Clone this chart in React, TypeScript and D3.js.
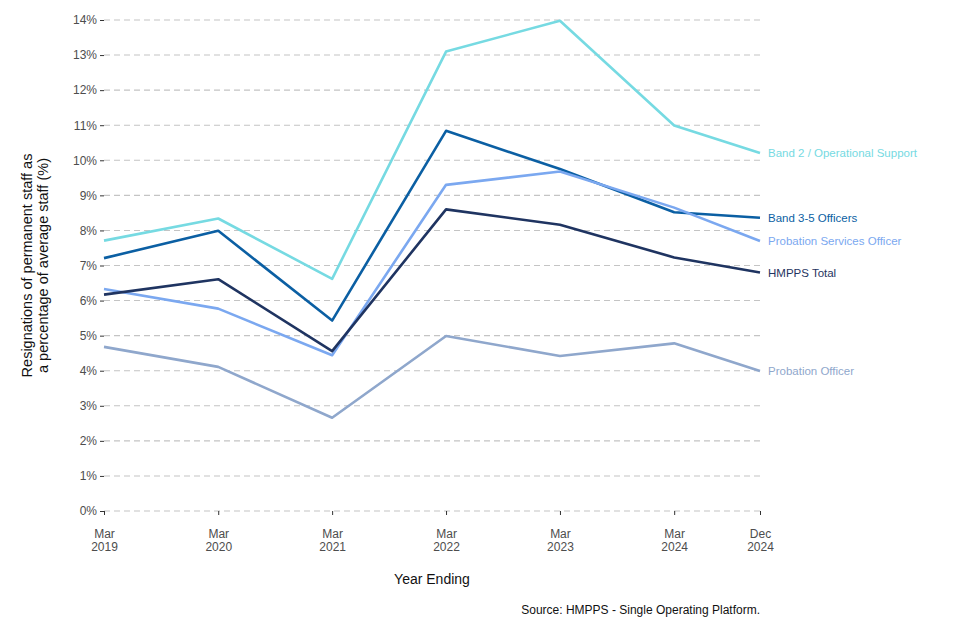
import * as d3 from "d3";
import { useEffect, useRef } from "react";

// year ending
const periods = ["2019-03", "2020-03", "2021-03", "2022-03", "2023-03", "2024-03", "2024-12"];
const periodLabels = [
  ["Mar", "2019"],
  ["Mar", "2020"],
  ["Mar", "2021"],
  ["Mar", "2022"],
  ["Mar", "2023"],
  ["Mar", "2024"],
  ["Dec", "2024"],
];

// resignation rate, %
const band2Ops = [7.71, 8.34, 6.62, 13.1, 13.98, 10.99, 10.21];
const band35Officers = [7.21, 7.99, 5.43, 10.84, 9.75, 8.52, 8.36];
const probServicesOfficer = [6.33, 5.77, 4.44, 9.3, 9.68, 8.65, 7.7];
const hmppsTotal = [6.17, 6.61, 4.56, 8.6, 8.16, 7.23, 6.8];
const probationOfficer = [4.68, 4.11, 2.66, 4.99, 4.42, 4.78, 3.99];

const yTicks = d3.range(0, 15);

const series = [
  { name: "Band 2 / Operational Support", values: band2Ops, color: "#76dae2" },
  { name: "Band 3-5 Officers", values: band35Officers, color: "#0b5fa3" },
  { name: "Probation Services Officer", values: probServicesOfficer, color: "#7ba8f0" },
  { name: "HMPPS Total", values: hmppsTotal, color: "#1f3461" },
  { name: "Probation Officer", values: probationOfficer, color: "#8fa7cc" },
];

const width = 960;
const height = 640;
const margin = { top: 20, right: 200, bottom: 129, left: 104 };

const parse = d3.timeParse("%Y-%m");
const dates = periods.map((p) => parse(p) as Date);

export default function App() {
  const gx = useRef<SVGGElement>(null);
  const gy = useRef<SVGGElement>(null);

  const x = d3
    .scaleTime()
    .domain([dates[0], dates[dates.length - 1]])
    .range([margin.left, width - margin.right]);

  const y = d3
    .scaleLinear()
    .domain([0, 14])
    .range([height - margin.bottom, margin.top]);

  const line = d3
    .line<number>()
    .x((_, i) => x(dates[i]))
    .y((d) => y(d));

  useEffect(() => {
    const g = d3.select(gx.current as SVGGElement);
    g.selectAll("*").remove();
    g.call(
      d3
        .axisBottom(x)
        .tickValues(dates)
        .tickSize(4)
        .tickFormat(() => "")
    );
    g.select(".domain").remove();
    g.selectAll(".tick line").attr("stroke", "#333");
    g.selectAll(".tick text").remove();
    g.selectAll(".tick")
      .append("text")
      .attr("fill", "#4d4d4d")
      .attr("font-size", 12)
      .attr("text-anchor", "middle")
      .selectAll("tspan")
      .data((_, i) => periodLabels[i])
      .join("tspan")
      .attr("x", 0)
      .attr("y", (_, j) => 27 + j * 12.5)
      .text((d) => d);
  }, []);

  useEffect(() => {
    const g = d3.select(gy.current as SVGGElement);
    g.selectAll("*").remove();
    g.call(
      d3
        .axisLeft(y)
        .tickValues(yTicks)
        .tickSize(4)
        .tickPadding(3)
        .tickFormat((v) => `${v}%`)
    );
    g.select(".domain").remove();
    g.selectAll(".tick line").attr("stroke", "#333");
    g.selectAll(".tick text").attr("fill", "#4d4d4d").attr("font-size", 12);
  }, []);

  return (
    <svg
      width={width}
      height={height}
      viewBox={`0 0 ${width} ${height}`}
      style={{ position: "absolute", left: 0, top: 0, fontFamily: "'Liberation Sans', Arial, sans-serif" }}
    >
      <rect width={width} height={height} fill="#fff" />
      <g>
        {yTicks.map((t) => (
          <line
            key={t}
            x1={margin.left}
            x2={width - margin.right}
            y1={y(t)}
            y2={y(t)}
            stroke="#c4c4c4"
            strokeWidth={1.1}
            strokeDasharray="6 4"
          />
        ))}
      </g>
      <g ref={gx} transform={`translate(0,${height - margin.bottom})`} fontFamily="'Liberation Sans', Arial, sans-serif" />
      <g ref={gy} transform={`translate(${margin.left},0)`} fontFamily="'Liberation Sans', Arial, sans-serif" />
      <g fill="none" strokeWidth={2.6} strokeLinejoin="round">
        {series.map((s) => (
          <path key={s.name} d={line(s.values) ?? ""} stroke={s.color} />
        ))}
      </g>
      <g fontSize={11.5}>
        {series.map((s) => (
          <text
            key={s.name}
            x={width - margin.right + 8}
            y={y(s.values[s.values.length - 1])}
            dy="0.35em"
            fill={s.color}
          >
            {s.name}
          </text>
        ))}
      </g>
      <text
        transform={`translate(32,${(margin.top + height - margin.bottom) / 2}) rotate(-90)`}
        textAnchor="middle"
        fontSize={14.5}
        fill="#111"
      >
        <tspan x={0} dy={0}>Resignations of permanent staff as</tspan>
        <tspan x={0} dy={16}>a percentage of average staff (%)</tspan>
      </text>
      <text
        x={(margin.left + width - margin.right) / 2}
        y={584}
        textAnchor="middle"
        fontSize={14}
        fill="#111"
      >
        Year Ending
      </text>
      <text x={width - margin.right} y={614} textAnchor="end" fontSize={12} fill="#111">
        Source: HMPPS - Single Operating Platform.
      </text>
    </svg>
  );
}
